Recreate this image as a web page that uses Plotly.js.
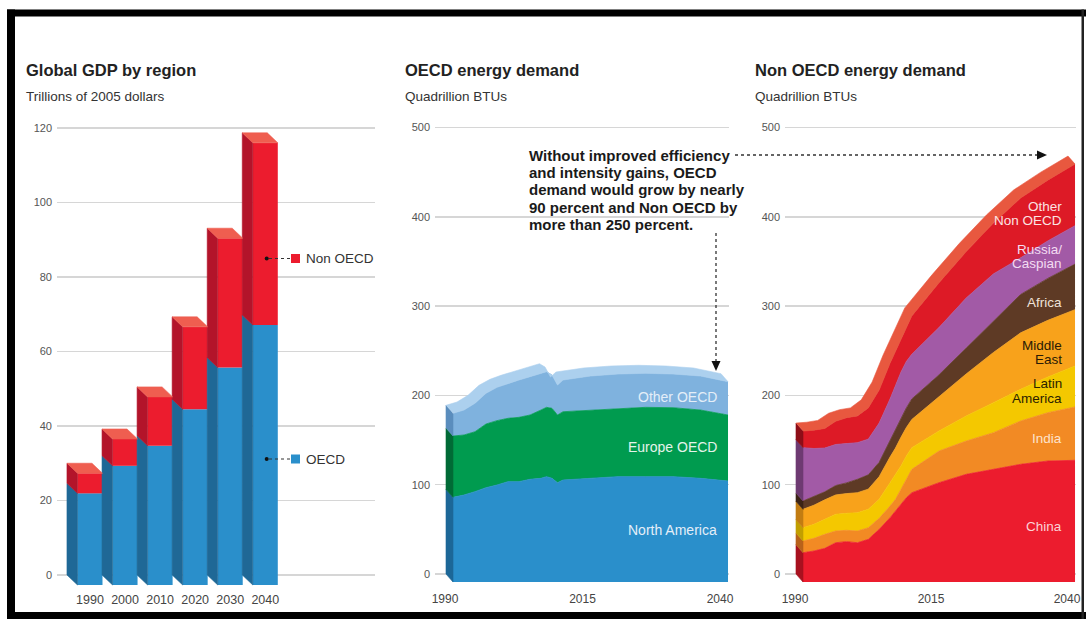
<!DOCTYPE html>
<html><head><meta charset="utf-8">
<script src="https://cdn.plot.ly/plotly-3.0.1.min.js"></script>
<style>html,body{margin:0;padding:0;background:#fff}#chart{width:1086px;height:619px}</style>
</head><body><div id="chart"></div>
<script>
// ---------- DATA ----------
// Global GDP by region (trillions of 2005 dollars)
const gdpYears = ['1990', '2000', '2010', '2020', '2030', '2040'];
const gdpOECD = [24.6, 32.0, 37.4, 47.2, 58.4, 69.8];
const gdpNonOECD = [5.4, 7.2, 13.1, 22.1, 34.7, 48.9];

// OECD energy demand (quadrillion BTUs)
const oecdYears = [1990,1992,1994,1996,1998,2000,2002,2004,2006,2007,2008,2009,2010,2015,2020,2025,2030,2035,2040];
const northAmerica = [94.8,97.4,101.2,105.6,108.6,112.4,112.4,115.0,116.1,118.0,116.1,111.2,114.2,116.1,118.0,118.0,118.0,116.1,113.1];
const europeOECD   = [68.7,67.2,67.1,71.3,72.1,70.9,72.0,72.0,76.5,77.6,78.4,75.8,76.5,76.5,76.5,77.6,77.2,76.5,73.9];
const otherOECD    = [25.4,28.0,31.8,34.4,37.3,39.2,41.8,42.9,41.1,39.9,37.3,33.6,35.5,38.1,38.4,38.1,37.7,38.1,37.3];

// Non OECD energy demand (quadrillion BTUs)
const nonOecdYears = [1990,1992,1994,1996,1998,2000,2002,2004,2006,2007,2008,2009,2010,2015,2020,2025,2030,2035,2040];
const china         = [32.8,34.7,37.7,44.0,45.2,44.0,47.8,59.0,72.0,79.5,87.0,94.4,100.0,111.2,120.6,126.2,131.8,135.5,136.3];
const india         = [13.1,14.2,15.7,13.1,12.7,13.1,13.0,12.3,13.1,13.1,16.7,20.5,26.2,35.5,37.3,41.0,48.5,54.1,59.7];
const latinAmerica  = [14.9,15.7,16.8,18.7,19.0,20.5,20.6,21.3,26.1,28.0,26.2,26.2,24.2,22.4,28.0,33.6,35.5,40.0,45.9];
const middleEast    = [20.6,21.4,21.8,21.7,22.1,22.4,22.6,25.4,28.8,29.4,32.1,31.9,31.6,38.9,47.1,56.2,63.2,63.4,63.1];
const africa        = [9.3,10,9,10.5,12,15,16,16,18,20,21,22,23,24,29,35,43,47,51];
const russiaCaspian = [59.7,53.5,49,46,44,41,40,44,47,50,52,52,50,53,56,53,41,42,43];
const otherNonOECD  = [18.6,20.5,22,26,29,30,35,37,40,38,37,38,43,50,52,57,67,68,69];

const xTicksEnergy = [1990, 2015, 2040];
const yTicksGdp = [0, 20, 40, 60, 80, 100, 120];
const yTicksEnergy = [0, 100, 200, 300, 400, 500];

// ---------- HELPERS ----------
const W = 1086, H = 619;
const px = x => x / W;
const py = y => 1 - y / H;
const FONT = 'Liberation Sans, Arial, sans-serif';
const traces = [];

// ---------- LEFT: 3D stacked bars ----------
const barW = 0.713, dxB = 0.30, dyB = 2.685;
const gx = gdpYears.map((_, i) => i);
const gdpTotal = gdpOECD.map((v, i) => v + gdpNonOECD[i]);
traces.push({type: 'bar', x: gx, y: gdpOECD, base: gx.map(() => -dyB), width: barW,
  marker: {color: '#2a8fcb', line: {width: 0}}, xaxis: 'x', yaxis: 'y', hoverinfo: 'skip', showlegend: false});
traces.push({type: 'bar', x: gx, y: gdpNonOECD, base: gdpOECD.map(v => v - dyB), width: barW,
  marker: {color: '#ec1c2e', line: {width: 0}}, xaxis: 'x', yaxis: 'y', hoverinfo: 'skip', showlegend: false});

function polyTrace(xs, ys, color, xa, ya) {
  return {type: 'scatter', x: xs, y: ys, mode: 'lines', fill: 'toself', fillcolor: color,
    line: {width: 0.6, color: color}, connectgaps: false, xaxis: xa, yaxis: ya, hoverinfo: 'skip', showlegend: false};
}
{
  const sb = {x: [], y: []}, sr = {x: [], y: []}, tr = {x: [], y: []};
  gx.forEach((c, i) => {
    const xl = c - barW / 2, xr = c + barW / 2, o = gdpOECD[i], t = gdpTotal[i];
    sb.x.push(xl, xl, xl - dxB, xl - dxB, xl, null); sb.y.push(-dyB, o - dyB, o, 0, -dyB, null);
    sr.x.push(xl, xl, xl - dxB, xl - dxB, xl, null); sr.y.push(o - dyB, t - dyB, t, o, o - dyB, null);
    tr.x.push(xl, xr, xr - dxB, xl - dxB, xl, null); tr.y.push(t - dyB, t - dyB, t, t, t - dyB, null);
  });
  traces.push(polyTrace(sb.x, sb.y, '#1f6896', 'x', 'y'));
  traces.push(polyTrace(sr.x, sr.y, '#b3142a', 'x', 'y'));
  traces.push(polyTrace(tr.x, tr.y, '#ef5e50', 'x', 'y'));
}

// ---------- AREA CHARTS with 3D faces ----------
function areaChart(xa, ya, years, layers, colors, sideColors, topColor, dxY, dyU) {
  let cum = years.map(() => 0);
  traces.push({type: 'scatter', x: years, y: cum.map(v => v - dyU), mode: 'lines',
    line: {width: 0, color: 'rgba(0,0,0,0)'}, xaxis: xa, yaxis: ya, hoverinfo: 'skip', showlegend: false});
  const bands = [];
  layers.forEach((vals, i) => {
    const lo = cum.slice();
    cum = cum.map((c, j) => c + vals[j]);
    bands.push({lo: lo, hi: cum.slice()});
    traces.push({type: 'scatter', x: years, y: cum.map(v => v - dyU), mode: 'lines',
      line: {width: 0.8, color: colors[i]}, fill: 'tonexty', fillcolor: colors[i],
      xaxis: xa, yaxis: ya, hoverinfo: 'skip', showlegend: false});
  });
  const x0 = years[0];
  bands.forEach((b, i) => {
    traces.push(polyTrace([x0, x0, x0 - dxY, x0 - dxY, x0], [b.lo[0] - dyU, b.hi[0] - dyU, b.hi[0], b.lo[0], b.lo[0] - dyU], sideColors[i], xa, ya));
  });
  const rev = years.slice().reverse();
  const topRev = cum.slice().reverse();
  traces.push(polyTrace(years.concat(rev.map(x => x - dxY)), cum.map(v => v - dyU).concat(topRev), topColor, xa, ya));
}

areaChart('x2', 'y2', oecdYears, [northAmerica, europeOECD, otherOECD],
  ['#2a8fcb', '#009b4f', '#7fb2de'], ['#1c6797', '#006a36', '#5a8dbd'], '#acd0ee', 1.27, 8.96);

areaChart('x3', 'y3', nonOecdYears, [china, india, latinAmerica, middleEast, africa, russiaCaspian, otherNonOECD],
  ['#ec1c2e', '#f28a24', '#f4c800', '#f8a21b', '#5e3a25', '#a25aa6', '#dd1a26'],
  ['#a8111f', '#b8621a', '#c29f00', '#c27c12', '#3c2416', '#6e3a72', '#8e0e18'], '#e8583f', 1.29, 8.96);

// ---------- LAYOUT ----------
const axisCommon = {showline: false, zeroline: false, fixedrange: true, ticks: ''};
const layout = {
  width: W, height: H, margin: {l: 0, r: 0, t: 0, b: 0},
  paper_bgcolor: '#ffffff', plot_bgcolor: 'rgba(0,0,0,0)',
  font: {family: FONT, color: '#333'},
  showlegend: false, barmode: 'overlay', hovermode: false,
  xaxis: Object.assign({}, axisCommon, {domain: [px(57), px(375)], range: [-0.941, 8.129], anchor: 'y',
    tickvals: gx, ticktext: gdpYears, showgrid: false, tickfont: {size: 12.5, color: '#444'}}),
  yaxis: Object.assign({}, axisCommon, {domain: [py(590), py(120)], range: [-4.03, 122.15], anchor: 'x',
    tickvals: yTicksGdp, showgrid: true, gridcolor: '#d6d6d6', gridwidth: 1.5, ticklabelstandoff: 4,
    tickfont: {size: 11, color: '#555'}}),
  xaxis2: Object.assign({}, axisCommon, {domain: [px(435), px(729)], range: [1986.73, 2040.18], anchor: 'y2',
    tickvals: xTicksEnergy, showgrid: false, ticklabelshift: -8, tickfont: {size: 12, color: '#444'}}),
  yaxis2: Object.assign({}, axisCommon, {domain: [py(590), py(120)], range: [-17.9, 508.4], anchor: 'x2',
    tickvals: yTicksEnergy, showgrid: true, gridcolor: '#d6d6d6', gridwidth: 1.5, ticklabelstandoff: 4,
    tickfont: {size: 11, color: '#555'}}),
  xaxis3: Object.assign({}, axisCommon, {domain: [px(785), px(1076)], range: [1986.69, 2040.18], anchor: 'y3',
    tickvals: xTicksEnergy, showgrid: false, ticklabelshift: -8, tickfont: {size: 12, color: '#444'}}),
  yaxis3: Object.assign({}, axisCommon, {domain: [py(590), py(120)], range: [-17.9, 508.4], anchor: 'x3',
    tickvals: yTicksEnergy, showgrid: true, gridcolor: '#d6d6d6', gridwidth: 1.5, ticklabelstandoff: 4,
    tickfont: {size: 11, color: '#555'}}),
  shapes: [], annotations: []
};

function rect(x0, y0, x1, y1, color) {
  layout.shapes.push({type: 'rect', xref: 'paper', yref: 'paper', x0: px(x0), x1: px(x1), y0: py(y1), y1: py(y0),
    fillcolor: color, line: {width: 0}, layer: 'above'});
}
function line(x0, y0, x1, y1, color, w, dash) {
  layout.shapes.push({type: 'line', xref: 'paper', yref: 'paper', x0: px(x0), x1: px(x1), y0: py(y0), y1: py(y1),
    line: {color: color, width: w, dash: dash || 'solid'}, layer: 'above'});
}
function tri(pts, color) {
  const d = 'M ' + pts.map(p => px(p[0]) + ' ' + py(p[1])).join(' L ') + ' Z';
  layout.shapes.push({type: 'path', xref: 'paper', yref: 'paper', path: d, fillcolor: color, line: {width: 0}, layer: 'above'});
}
function text(t, x, y, size, color, anchor, bold) {
  layout.annotations.push({text: bold ? '<b>' + t + '</b>' : t, x: px(x), y: py(y), xref: 'paper', yref: 'paper',
    xanchor: anchor || 'left', yanchor: 'middle', showarrow: false, font: {size: size, color: color, family: FONT}});
}

// frame
rect(7, 9.5, 1086, 16.5, '#000');
rect(7, 9.5, 15, 619, '#000');
rect(7, 612, 1086, 619, '#000');
rect(1081.5, 9.5, 1084, 619, '#222');

// titles
text('Global GDP by region', 24, 70, 16.5, '#222', 'left', true);
text('Trillions of 2005 dollars', 24, 97, 13.5, '#333');
text('OECD energy demand', 403, 70, 16.5, '#222', 'left', true);
text('Quadrillion BTUs', 403, 97, 13.5, '#333');
text('Non OECD energy demand', 753, 70, 16.5, '#222', 'left', true);
text('Quadrillion BTUs', 753, 97, 13.5, '#333');

// left legend
layout.shapes.push({type: 'circle', xref: 'paper', yref: 'paper', x0: px(264.7), x1: px(268.7), y0: py(260.5), y1: py(256.5), fillcolor: '#111', line: {width: 0}, layer: 'above'});
line(269, 258.5, 290, 258.5, '#333', 1, 'dot');
rect(291, 254, 300, 263, '#ec1c2e');
text('Non OECD', 304, 258.5, 13.5, '#333');
layout.shapes.push({type: 'circle', xref: 'paper', yref: 'paper', x0: px(264.7), x1: px(268.7), y0: py(461), y1: py(457), fillcolor: '#111', line: {width: 0}, layer: 'above'});
line(269, 459, 290, 459, '#333', 1, 'dot');
rect(291, 454.5, 300, 463.5, '#2a8fcb');
text('OECD', 304, 459, 13.5, '#333');

// middle callout
const callout = ['Without improved efficiency', 'and intensity gains, OECD', 'demand would grow by nearly',
  '90 percent and Non OECD by', 'more than 250 percent.'];
callout.forEach((s, i) => text(s, 527, 155 + i * 17.5, 15, '#1a1a1a', 'left', true));
line(735, 155, 1039, 155, '#333', 1.3, 'dot');
tri([[1037, 150.5], [1047, 155], [1037, 159.5]], '#111');
line(716, 233, 716, 362, '#333', 1.3, 'dot');
tri([[711.5, 361], [716, 371], [720.5, 361]], '#111');

// middle labels
text('Other OECD', 718.5, 396.5, 14, '#e4eef8', 'right');
text('Europe OECD', 718.5, 446.5, 14, '#e4f3ea', 'right');
text('North America', 718.5, 530, 14, '#e4eef8', 'right');

// right labels
text('Other', 1063.5, 206, 13.5, '#fbe3e3', 'right');
text('Non OECD', 1063.5, 220.5, 13.5, '#fbe3e3', 'right');
text('Russia/', 1063.5, 249.5, 13.5, '#f3dcf2', 'right');
text('Caspian', 1063.5, 263.5, 13.5, '#f3dcf2', 'right');
text('Africa', 1063.5, 302.5, 13.5, '#efe2d8', 'right');
text('Middle', 1063.5, 345, 13.5, '#2a1a05', 'right');
text('East', 1063.5, 359.5, 13.5, '#2a1a05', 'right');
text('Latin', 1063.5, 383.5, 13.5, '#2a2200', 'right');
text('America', 1063.5, 398, 13.5, '#2a2200', 'right');
text('India', 1063.5, 438.5, 13.5, '#fde3cc', 'right');
text('China', 1063.5, 526, 13.5, '#fbd3d6', 'right');

Plotly.newPlot('chart', traces, layout, {staticPlot: true, displayModeBar: false});
</script>
</body></html>
